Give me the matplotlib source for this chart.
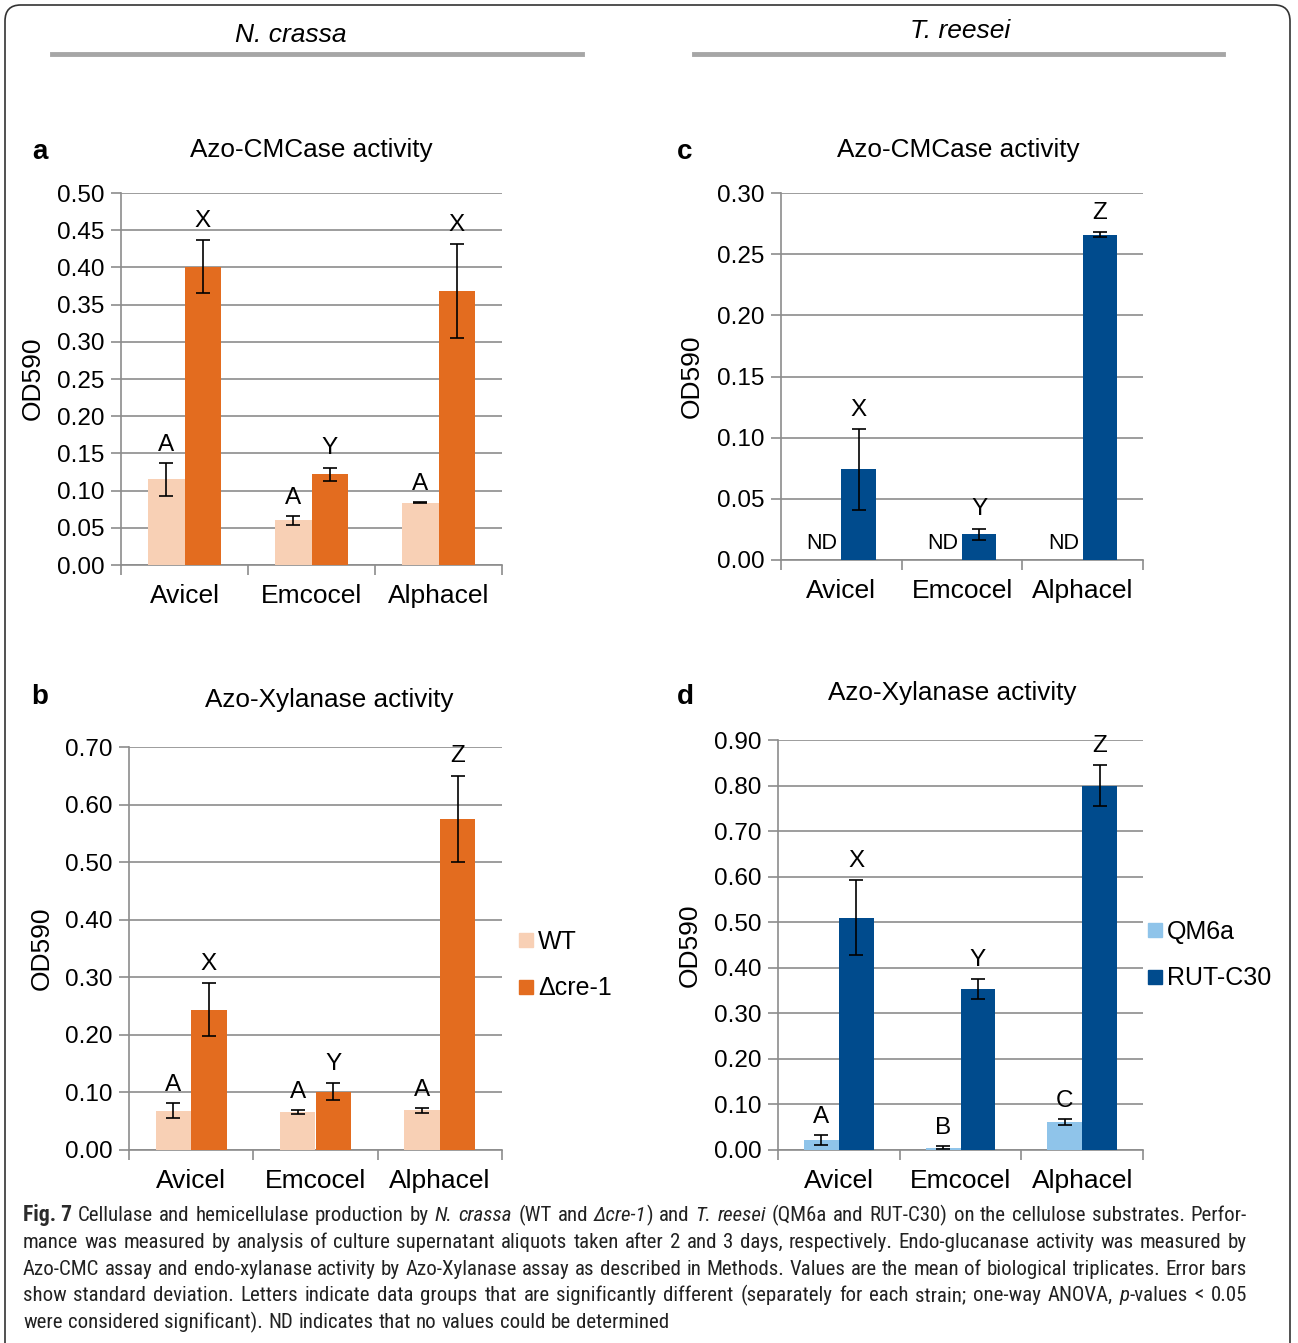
import matplotlib
matplotlib.use("Agg")
import matplotlib.pyplot as plt
from matplotlib import font_manager
from matplotlib.font_manager import FontProperties
from matplotlib.patches import FancyBboxPatch
from matplotlib.lines import Line2D
import numpy as np

plt.rcParams["font.family"] = ["Liberation Sans", "DejaVu Sans"]

# ---- data ----
categories = ["Avicel", "Emcocel", "Alphacel"]

# a: N. crassa Azo-CMCase
nc_cmc_wt = [0.115, 0.060, 0.084]
nc_cmc_wt_sd = [0.022, 0.006, 0.001]
nc_cmc_cre = [0.401, 0.122, 0.368]
nc_cmc_cre_sd = [0.036, 0.009, 0.063]
nc_cmc_wt_letters = ["A", "A", "A"]
nc_cmc_cre_letters = ["X", "Y", "X"]

# b: N. crassa Azo-Xylanase
nc_xyl_wt = [0.068, 0.066, 0.069]
nc_xyl_wt_sd = [0.013, 0.003, 0.004]
nc_xyl_cre = [0.244, 0.101, 0.575]
nc_xyl_cre_sd = [0.046, 0.015, 0.075]
nc_xyl_wt_letters = ["A", "A", "A"]
nc_xyl_cre_letters = ["X", "Y", "Z"]

# c: T. reesei Azo-CMCase (QM6a not determined)
tr_cmc_qm = [np.nan, np.nan, np.nan]
tr_cmc_qm_sd = [np.nan, np.nan, np.nan]
tr_cmc_rut = [0.074, 0.021, 0.266]
tr_cmc_rut_sd = [0.033, 0.0045, 0.002]
tr_cmc_qm_letters = ["ND", "ND", "ND"]
tr_cmc_rut_letters = ["X", "Y", "Z"]

# d: T. reesei Azo-Xylanase
tr_xyl_qm = [0.022, 0.005, 0.062]
tr_xyl_qm_sd = [0.010, 0.003, 0.007]
tr_xyl_rut = [0.510, 0.353, 0.800]
tr_xyl_rut_sd = [0.083, 0.022, 0.045]
tr_xyl_qm_letters = ["A", "B", "C"]
tr_xyl_rut_letters = ["X", "Y", "Z"]

W, H = 1298, 1343
GRID = "#8c8c8c"
C_WT, C_CRE = "#f8d0b5", "#e36c1f"
C_QM, C_RUT = "#8fc4ea", "#004b8d"

fig = plt.figure(figsize=(W / 100, H / 100), dpi=100)


def add_ax(x0, y0, x1, y1):
    return fig.add_axes([x0 / W, 1 - y1 / H, (x1 - x0) / W, (y1 - y0) / H])


def ftext(x, y, s, **kw):
    return fig.text(x / W, 1 - y / H, s, **kw)


def draw_panel(ax, v1, e1, v2, e2, l1, l2, c1, c2, ymax, ystep, nd=False):
    x = np.arange(len(categories)) + 0.5
    w = 0.285
    ax.bar(x - w / 2, v1, w, color=c1, zorder=3)
    ax.bar(x + w / 2, v2, w, color=c2, zorder=3)
    ek = dict(fmt="none", ecolor="black", elinewidth=1.2, capsize=5, capthick=1.2, zorder=4)
    ax.errorbar(x - w / 2, v1, yerr=e1, **ek)
    ax.errorbar(x + w / 2, v2, yerr=e2, **ek)
    for i in range(len(categories)):
        if nd:
            ax.annotate(l1[i], (x[i] - 0.03, 0), xytext=(0, 4), textcoords="offset points",
                        ha="right", va="bottom", fontsize=15.5)
        else:
            ax.annotate(l1[i], (x[i] - w / 2, v1[i] + e1[i]), xytext=(0, 5),
                        textcoords="offset points", ha="center", va="bottom", fontsize=17.5)
        ax.annotate(l2[i], (x[i] + w / 2, v2[i] + e2[i]), xytext=(0, 6),
                    textcoords="offset points", ha="center", va="bottom", fontsize=17.5)
    ax.set_xlim(0, len(categories))
    ax.set_ylim(0, ymax)
    ax.set_yticks(np.arange(0, ymax + ystep / 2, ystep))
    ax.yaxis.set_major_formatter(matplotlib.ticker.FormatStrFormatter("%.2f"))
    ax.set_xticks(np.arange(0, len(categories) + 1))
    ax.set_xticklabels([])
    ax.set_xticks(x, minor=True)
    ax.set_xticklabels(categories, minor=True, fontsize=19)
    ax.tick_params(axis="x", which="major", length=7, width=1.2, color=GRID)
    ax.tick_params(axis="x", which="minor", length=0, pad=14)
    ax.tick_params(axis="y", length=7, width=1.2, color=GRID, labelsize=17.5, pad=5)
    ax.grid(axis="y", color=GRID, linewidth=1.2, zorder=0)
    ax.set_axisbelow(True)
    for s in ["top", "right"]:
        ax.spines[s].set_visible(False)
    for s in ["left", "bottom"]:
        ax.spines[s].set_color(GRID)
        ax.spines[s].set_linewidth(1.2)


# panel a
ax_a = add_ax(121, 193, 502, 565)
draw_panel(ax_a, nc_cmc_wt, nc_cmc_wt_sd, nc_cmc_cre, nc_cmc_cre_sd,
           nc_cmc_wt_letters, nc_cmc_cre_letters, C_WT, C_CRE, 0.5, 0.05)
# panel b
ax_b = add_ax(129, 747, 502, 1150)
draw_panel(ax_b, nc_xyl_wt, nc_xyl_wt_sd, nc_xyl_cre, nc_xyl_cre_sd,
           nc_xyl_wt_letters, nc_xyl_cre_letters, C_WT, C_CRE, 0.7, 0.1)
# panel c
ax_c = add_ax(781, 193, 1143, 560)
draw_panel(ax_c, tr_cmc_qm, tr_cmc_qm_sd, tr_cmc_rut, tr_cmc_rut_sd,
           tr_cmc_qm_letters, tr_cmc_rut_letters, C_QM, C_RUT, 0.3, 0.05, nd=True)
# panel d
ax_d = add_ax(778, 740, 1143, 1150)
draw_panel(ax_d, tr_xyl_qm, tr_xyl_qm_sd, tr_xyl_rut, tr_xyl_rut_sd,
           tr_xyl_qm_letters, tr_xyl_rut_letters, C_QM, C_RUT, 0.9, 0.1)

# titles, panel letters, y labels
for x, y, t in [(311, 150, "Azo-CMCase activity"), (329, 700, "Azo-Xylanase activity"),
                (958, 150, "Azo-CMCase activity"), (952, 693, "Azo-Xylanase activity")]:
    ftext(x, y, t, ha="center", va="center", fontsize=18.8)
for x, y, t in [(40, 152, "a"), (40, 697, "b"), (685, 152, "c"), (685, 697, "d")]:
    ftext(x, y, t, ha="center", va="center", fontsize=20, fontweight="bold")
for x, y in [(33, 378), (42, 948), (692, 376), (690, 945)]:
    ftext(x, y, "OD590", ha="center", va="center", rotation=90, fontsize=19)

# legends
def sq(c):
    return Line2D([], [], marker="s", linestyle="none", markersize=10,
                  markerfacecolor=c, markeredgecolor=c)

fig.legend([sq(C_WT), sq(C_CRE)], ["WT", "\u0394cre-1"], loc="center left",
           bbox_to_anchor=(507 / W, 1 - 965 / H), frameon=False, fontsize=18,
           handlelength=0.55, handletextpad=0.2, labelspacing=0.9, borderpad=0)
fig.legend([sq(C_QM), sq(C_RUT)], ["QM6a", "RUT-C30"], loc="center left",
           bbox_to_anchor=(1136 / W, 1 - 955 / H), frameon=False, fontsize=18,
           handlelength=0.55, handletextpad=0.2, labelspacing=0.9, borderpad=0)

# species headers
ftext(291, 35, "N. crassa", ha="center", va="center", fontsize=19, style="italic")
ftext(960, 31, "T. reesei", ha="center", va="center", fontsize=19, style="italic")
for x0, x1 in [(52, 582), (694, 1223)]:
    fig.add_artist(Line2D([x0 / W, x1 / W], [1 - 54 / H, 1 - 54 / H],
                          transform=fig.transFigure, color="#a6a6a6", linewidth=3.5))

# border
fig.add_artist(FancyBboxPatch((5 / W, -0.05), 1285 / W, 1.05 - 5 / H,
                              boxstyle="round,pad=0,rounding_size=0.012",
                              transform=fig.transFigure, fill=False,
                              edgecolor="#333333", linewidth=1.2))


# caption font: a condensed face if one is installed
def _w(e):
    w = e.weight
    if isinstance(w, str):
        w = font_manager.weight_dict.get(w, 400)
    return w


def caption_fonts():
    entries = font_manager.fontManager.ttflist
    cond = [e for e in entries if e.stretch in ("condensed", "semi-condensed", "extra-condensed")
            or "Narrow" in e.name or "Condensed" in e.name]
    prefer = ["Liberation Sans Narrow", "Roboto Condensed", "Open Sans Condensed",
              "Noto Sans", "DejaVu Sans"] + sorted({e.name for e in cond})
    for fam in prefer:
        fe = [e for e in cond if e.name == fam]
        if not fe:
            continue
        out = {}
        for it in (False, True):
            for bd in (False, True):
                best = None
                for e in fe:
                    e_it = e.style in ("italic", "oblique")
                    e_bd = _w(e) >= 600
                    score = (e_it != it) * 2 + (e_bd != bd) * 1 + abs(_w(e) - (700 if bd else 400)) / 1000
                    if best is None or score < best[0]:
                        best = (score, e)
                out[(it, bd)] = FontProperties(fname=best[1].fname)
        return out
    return {(it, bd): FontProperties(family="Liberation Sans",
                                     style="italic" if it else "normal",
                                     weight="bold" if bd else "normal")
            for it in (False, True) for bd in (False, True)}


cap_fonts = caption_fonts()
caption = [
    "*Fig.~7*  Cellulase and hemicellulase production by _N._ _crassa_ (WT and _\u0394cre-1_) and "
    "_T._ _reesei_ (QM6a and RUT-C30) on the cellulose substrates. Perfor-",
    "mance was measured by analysis of culture supernatant aliquots taken after 2 and 3 days, "
    "respectively. Endo-glucanase activity was measured by",
    "Azo-CMC assay and endo-xylanase activity by Azo-Xylanase assay as described in Methods. "
    "Values are the mean of biological triplicates. Error bars",
    "show standard deviation. Letters indicate data groups that are significantly different "
    "(separately for each strain; one-way ANOVA, _p_-values < 0.05",
    "were considered significant). ND indicates that no values could be determined",
]
cap_y = [1216, 1243, 1270, 1296, 1323]
renderer = fig.canvas.get_renderer()


def parse_word(word):
    segs, cur, it, bd = [], "", False, False
    for ch in word:
        if ch in "_*":
            if cur:
                segs.append((cur, it, bd))
            cur = ""
            if ch == "_":
                it = not it
            else:
                bd = not bd
        else:
            cur += " " if ch == "~" else ch
    if cur:
        segs.append((cur, it, bd))
    return segs


def make_word(segs, size):
    arts, width = [], 0
    for s, it, bd in segs:
        fp = cap_fonts[(it, bd)].copy()
        fp.set_size(size + (0.5 if bd else 0))
        t = fig.text(0, 0, s, fontproperties=fp, va="baseline", ha="left",
                     color="#2b2b2b" if bd else "#222222")
        w = t.get_window_extent(renderer).width
        arts.append((t, width))
        width += w
    return arts, width


x_left, x_right = 23, 1247
# find a size that lets the justified lines fit
probe = 10.0
fits = []
for line in caption[:-1]:
    words = [make_word(parse_word(w), probe) for w in line.split(" ") if w]
    total = sum(w for _, w in words) + (len(words) - 1) * probe * 0.25 * 100 / 72
    fits.append(probe * (x_right - x_left) / total)
    for arts, _ in words:
        for t, _ in arts:
            t.remove()
cap_size = min(17.0, min(fits) * 0.995)

for li, (line, yc) in enumerate(zip(caption, cap_y)):
    words = [make_word(parse_word(w), cap_size) for w in line.split(" ") if w]
    total = sum(w for _, w in words)
    space = cap_size * 0.25 * 100 / 72
    if li < len(caption) - 1:
        space = (x_right - x_left - total) / (len(words) - 1)
    x = x_left
    for arts, w in words:
        for t, off in arts:
            t.set_position(((x + off) / W, 1 - (yc + 5) / H))
        x += w + space

fig.savefig("out.png", dpi=100)
